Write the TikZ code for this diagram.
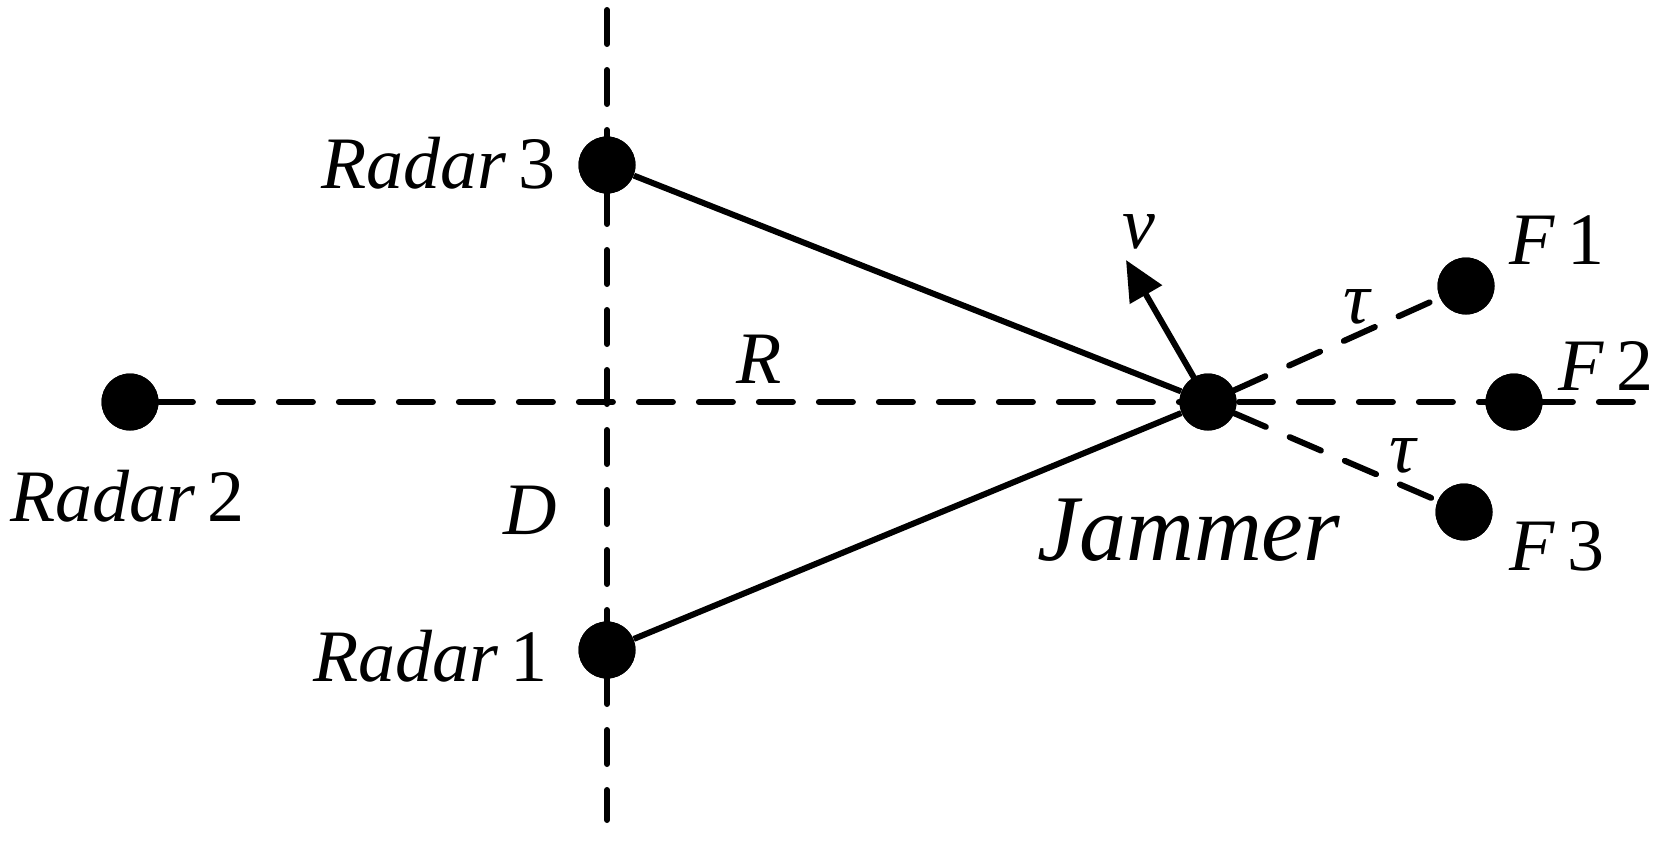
\documentclass[tikz,border=0pt]{standalone}
\usepackage{fontspec}
\setmainfont{LiberationSerif}[Extension=.ttf,UprightFont=*-Regular,ItalicFont=*-Italic,BoldFont=*-Bold,BoldItalicFont=*-BoldItalic]
\usetikzlibrary{arrows.meta}
\begin{document}
\begin{tikzpicture}[x=0.5pt,y=-0.5pt,
  dot/.style={circle,fill=black,draw=none,inner sep=0pt,minimum size=28.5pt},
  lbl/.style={font=\fontsize{37}{40}\selectfont,inner sep=0pt},
  biglbl/.style={font=\fontsize{47}{50}\selectfont,inner sep=0pt},
  solidline/.style={line width=3pt},
  dashline/.style={line width=3pt,dash pattern=on 17pt off 13pt,line cap=round}]
\useasboundingbox (0,0) rectangle (1672,846);
% points
\coordinate (vtop) at (607,10);
\coordinate (vbot) at (607,820);
\coordinate (hend) at (1642,402);
\coordinate (vtip) at (1126,260);
\node[dot] (r3) at (607,165) {};
\node[dot] (r1) at (607,650) {};
\node[dot] (r2) at (130,402) {};
\node[dot] (jam) at (1208,402) {};
\node[dot] (f1) at (1466,286) {};
\node[dot] (f2) at (1514,402) {};
\node[dot] (f3) at (1464,512) {};
% lines
\draw[dashline] (vtop) -- (vbot);
\draw[dashline] (r2.east) -- (hend);
\draw[dashline] (jam) -- (f1);
\draw[dashline] (jam) -- (f3);
\draw[solidline] (r3) -- (jam);
\draw[solidline] (r1) -- (jam);
\draw[solidline,-{Triangle[length=20pt,width=18pt]}] (jam.center) -- (vtip);
% redraw dots on top
\foreach \n in {r3,r1,r2,jam,f1,f2,f3} \fill (\n.center) circle (14.25pt);
% labels
\node[lbl,anchor=east] (l3) at (556,163) {\textit{Radar}\,3};
\node[lbl,anchor=east] (l1) at (548,656) {\textit{Radar}\,1};
\node[lbl,anchor=west] (l2) at (10,496) {\textit{Radar}\,2};
\node[lbl] (lD) at (530,510) {\textit{D}};
\node[lbl] (lR) at (759,359) {\textit{R}};
\node[lbl] (lv) at (1139,232) {\textit{v}};
\node[lbl] (lF1) at (1557,240) {\textit{F}\,1};
\node[lbl] (lF2) at (1606,366) {\textit{F}\,2};
\node[lbl] (lF3) at (1557,546) {\textit{F}\,3};
\node[lbl] (lt1) at (1358,307) {\textit{τ}};
\node[lbl] (lt2) at (1404,456) {\textit{τ}};
\node[biglbl] (lJ) at (1189,530) {\textit{Jammer}};
\end{tikzpicture}
\end{document}
